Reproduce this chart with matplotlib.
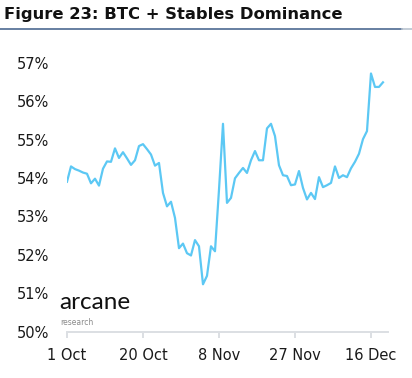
import numpy as np
import pandas as pd
import matplotlib
matplotlib.use("Agg")
import matplotlib.pyplot as plt
import matplotlib.dates as mdates

# daily BTC + stablecoin dominance (%), starting 1 Oct
start = "2021-10-01"
dominance = [
    53.90, 54.30, 54.23, 54.19, 54.14, 54.11, 53.86, 53.98, 53.80, 54.24,
    54.43, 54.42, 54.77, 54.52, 54.67, 54.51, 54.34, 54.46, 54.83, 54.88,
    54.75, 54.61, 54.32, 54.39, 53.61, 53.26, 53.38, 52.96, 52.17, 52.29,
    52.04, 51.98, 52.38, 52.22, 51.23, 51.45, 52.22, 52.09, 53.69, 55.41,
    53.35, 53.48, 53.99, 54.13, 54.26, 54.13, 54.46, 54.70, 54.46, 54.46,
    55.29, 55.41, 55.09, 54.33, 54.07, 54.05, 53.81, 53.83, 54.18, 53.74,
    53.44, 53.61, 53.45, 54.02, 53.76, 53.81, 53.87, 54.30, 54.00, 54.07,
    54.02, 54.25, 54.42, 54.63, 55.01, 55.22, 56.72, 56.37, 56.37, 56.49,
]
dates = pd.date_range(start, periods=len(dominance), freq="D")

tick_dates = ["2021-10-01", "2021-10-20", "2021-11-08", "2021-11-27", "2021-12-16"]
tick_labels = ["1 Oct", "20 Oct", "8 Nov", "27 Nov", "16 Dec"]
y_ticks = [50, 51, 52, 53, 54, 55, 56, 57]

plt.rcParams["font.family"] = ["DejaVu Sans"]

fig = plt.figure(figsize=(4.12, 3.78), dpi=100)
ax = fig.add_axes([0.1626, 0.123, 0.7791, 0.711])

ax.plot(dates, dominance, color="#5cc8f4", linewidth=1.6, solid_joinstyle="round")

ax.set_xlim(pd.Timestamp(start), pd.Timestamp(start) + pd.Timedelta(days=80.25))
ax.set_ylim(50, 57)
ax.set_yticks(y_ticks)
ax.set_yticklabels([f"{v}%" for v in y_ticks])
ax.set_xticks([pd.Timestamp(d) for d in tick_dates])
ax.set_xticklabels(tick_labels)

for s in ["top", "right", "left"]:
    ax.spines[s].set_visible(False)
ax.spines["bottom"].set_color("#dcdfe3")
ax.spines["bottom"].set_linewidth(1.4)
ax.tick_params(axis="y", length=0, pad=13, labelsize=10.5, labelcolor="#1a1a1a")
ax.tick_params(axis="x", length=4, width=1.4, color="#dcdfe3", pad=8,
               labelsize=10.5, labelcolor="#1a1a1a")

# title and rule under it
fig.text(0.01, 0.962, "Figure 23: BTC + Stables Dominance", fontsize=11.8,
         fontweight="bold", color="#111111", va="center", ha="left")
fig.add_artist(plt.Line2D([0, 0.976], [0.923, 0.923], color="#4d6a91", linewidth=1.2))
fig.add_artist(plt.Line2D([0.976, 1.0], [0.923, 0.923], color="#b9c3cf", linewidth=1.2))

# logo
fig.text(0.143, 0.2, "arcane", fontsize=17.5, family=["Lato", "DejaVu Sans"],
         color="#111111", va="center", ha="left")
fig.text(0.146, 0.146, "research", fontsize=5.5, color="#8a8a8a", va="center", ha="left")

fig.savefig("out.png", dpi=100)
